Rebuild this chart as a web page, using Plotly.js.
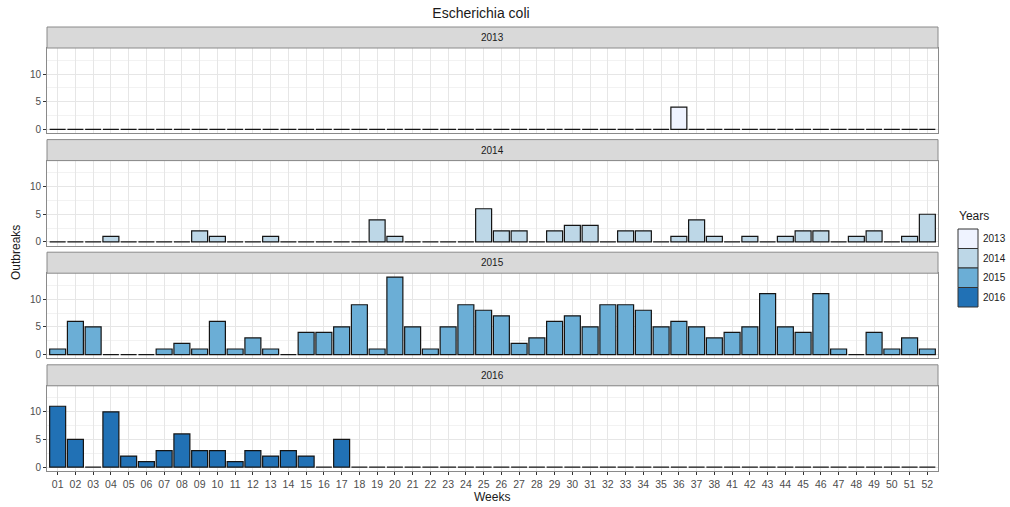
<!DOCTYPE html>
<html><head><meta charset="utf-8">
<script src="https://cdn.plot.ly/plotly-3.0.1.min.js"></script>
<style>body{margin:0;background:#fff;}#chart{width:1010px;height:507px;}</style>
</head><body><div id="chart"></div>
<script>
// ---- data ----
const weeks = ["01","02","03","04","05","06","07","08","09","10",
  "11","12","13","14","15","16","17","18","19","20",
  "21","22","23","24","25","26","27","28","29","30",
  "31","32","33","34","35","36","37","38",
  "41","42","43","44","45","46","47","48","49","50","51","52"];
const years = ["2013","2014","2015","2016"];
const yearColors = ["#EFF3FF","#BDD7E7","#6BAED6","#2171B5"];
const outbreaks2013 = [0,0,0,0,0,0,0,0,0,0, 0,0,0,0,0,0,0,0,0,0, 0,0,0,0,0,0,0,0,0,0,
  0,0,0,0,0,4,0,0, 0,0,0,0,0,0,0,0,0,0,0,0];
const outbreaks2014 = [0,0,0,1,0,0,0,0,2,1, 0,0,1,0,0,0,0,0,4,1, 0,0,0,0,6,2,2,0,2,3,
  3,0,2,2,0,1,4,1, 0,1,0,1,2,2,0,1,2,0,1,5];
const outbreaks2015 = [1,6,5,0,0,0,1,2,1,6, 1,3,1,0,4,4,5,9,1,14, 5,1,5,9,8,7,2,3,6,7,
  5,9,9,8,5,6,5,3, 4,5,11,5,4,11,1,0,4,1,3,1];
const outbreaks2016 = [11,5,0,10,2,1,3,6,3,3, 1,3,2,3,2,0,5,0,0,0, 0,0,0,0,0,0,0,0,0,0,
  0,0,0,0,0,0,0,0, 0,0,0,0,0,0,0,0,0,0,0,0];
const seriesByYear = [outbreaks2013, outbreaks2014, outbreaks2015, outbreaks2016];

// ---- geometry (pixels) ----
const W = 1010, H = 507;
const L = 47, R = 938, T = 27, B = 471;
const PW = R - L, PH = B - T;
const block = 112.6, stripH = 21, panelH = 85.2;
const px2x = p => (p - L) / PW;
const px2y = p => (B - p) / PH;

const traces = [];
const layout = {
  width: W, height: H,
  margin: {l: L, r: W - R, t: T, b: H - B, pad: 0},
  paper_bgcolor: '#ffffff', plot_bgcolor: '#ffffff',
  bargap: 0.1,
  showlegend: false,
  font: {family: 'Liberation Sans, Arial, sans-serif', color: '#4d4d4d'},
  title: {text: 'Escherichia coli', xref: 'container', yref: 'container',
          x: 481 / W, y: 1 - 13 / H, xanchor: 'center', yanchor: 'middle',
          font: {size: 14, color: '#1a1a1a'}},
  shapes: [], annotations: []
};

years.forEach((yr, i) => {
  const sx = i === 0 ? '' : String(i + 1);
  traces.push({
    type: 'bar', x: weeks, y: seriesByYear[i], name: yr,
    xaxis: 'x' + sx, yaxis: 'y' + sx,
    marker: {color: yearColors[i], line: {color: '#141414', width: 1.2}},
    hoverinfo: 'x+y'
  });
  const top = T + i * block + stripH;
  const bot = top + panelH;
  const isLast = i === years.length - 1;
  layout['xaxis' + sx] = {
    type: 'category', categoryorder: 'array', categoryarray: weeks,
    range: [-0.6, weeks.length - 0.4], domain: [0, 1], anchor: 'y' + sx,
    showgrid: true, gridcolor: '#e6e6e6', gridwidth: 1,
    showline: true, mirror: true, linecolor: '#8a8a8a', linewidth: 1,
    zeroline: false,
    ticks: isLast ? 'outside' : '', ticklen: 3, tickcolor: '#333333',
    showticklabels: isLast,
    tickfont: {size: 10.5, color: '#4d4d4d'}, fixedrange: true
  };
  layout['yaxis' + sx] = {
    domain: [px2y(bot), px2y(top)], anchor: 'x' + sx,
    range: [-0.7, 14.7], tickvals: [0, 5, 10], ticktext: ['0', '5', '10'],
    showgrid: true, gridcolor: '#e6e6e6', gridwidth: 1,
    minor: {tickvals: [2.5, 7.5, 12.5], showgrid: true, gridcolor: '#f2f2f2', ticks: ''},
    showline: true, mirror: true, linecolor: '#8a8a8a', linewidth: 1,
    zeroline: false,
    ticks: 'outside', ticklen: 3, tickcolor: '#333333',
    tickfont: {size: 10, color: '#4d4d4d'}, fixedrange: true
  };
  // strip
  const sTop = T + i * block;
  layout.shapes.push({type: 'rect', xref: 'paper', yref: 'paper',
    x0: 0, x1: 1, y0: px2y(sTop + stripH), y1: px2y(sTop),
    fillcolor: '#d9d9d9', line: {color: '#8a8a8a', width: 1}});
  layout.annotations.push({xref: 'paper', yref: 'paper', x: 0.5, y: px2y(sTop + stripH / 2),
    xanchor: 'center', yanchor: 'middle', text: yr, showarrow: false,
    font: {size: 10, color: '#1a1a1a'}});
  // legend key
  const kTop = 229 + i * 19.5;
  layout.shapes.push({type: 'rect', xref: 'paper', yref: 'paper',
    x0: px2x(958), x1: px2x(978), y0: px2y(kTop + 19.5), y1: px2y(kTop),
    fillcolor: yearColors[i], line: {color: '#333333', width: 1}});
  layout.annotations.push({xref: 'paper', yref: 'paper', x: px2x(981), y: px2y(kTop + 9.75),
    xanchor: 'left', yanchor: 'middle', text: yr, showarrow: false,
    font: {size: 10, color: '#1a1a1a'}});
});

layout.annotations.push({xref: 'paper', yref: 'paper', x: px2x(957), y: px2y(216),
  xanchor: 'left', yanchor: 'middle', text: 'Years', showarrow: false,
  font: {size: 12, color: '#1a1a1a'}});
layout.annotations.push({xref: 'paper', yref: 'paper', x: px2x(492), y: px2y(497),
  xanchor: 'center', yanchor: 'middle', text: 'Weeks', showarrow: false,
  font: {size: 12, color: '#1a1a1a'}});
layout.annotations.push({xref: 'paper', yref: 'paper', x: px2x(16), y: px2y(253),
  xanchor: 'center', yanchor: 'middle', text: 'Outbreaks', textangle: -90, showarrow: false,
  font: {size: 12, color: '#1a1a1a'}});

Plotly.newPlot('chart', traces, layout, {displayModeBar: false, staticPlot: true});
</script>
</body></html>
